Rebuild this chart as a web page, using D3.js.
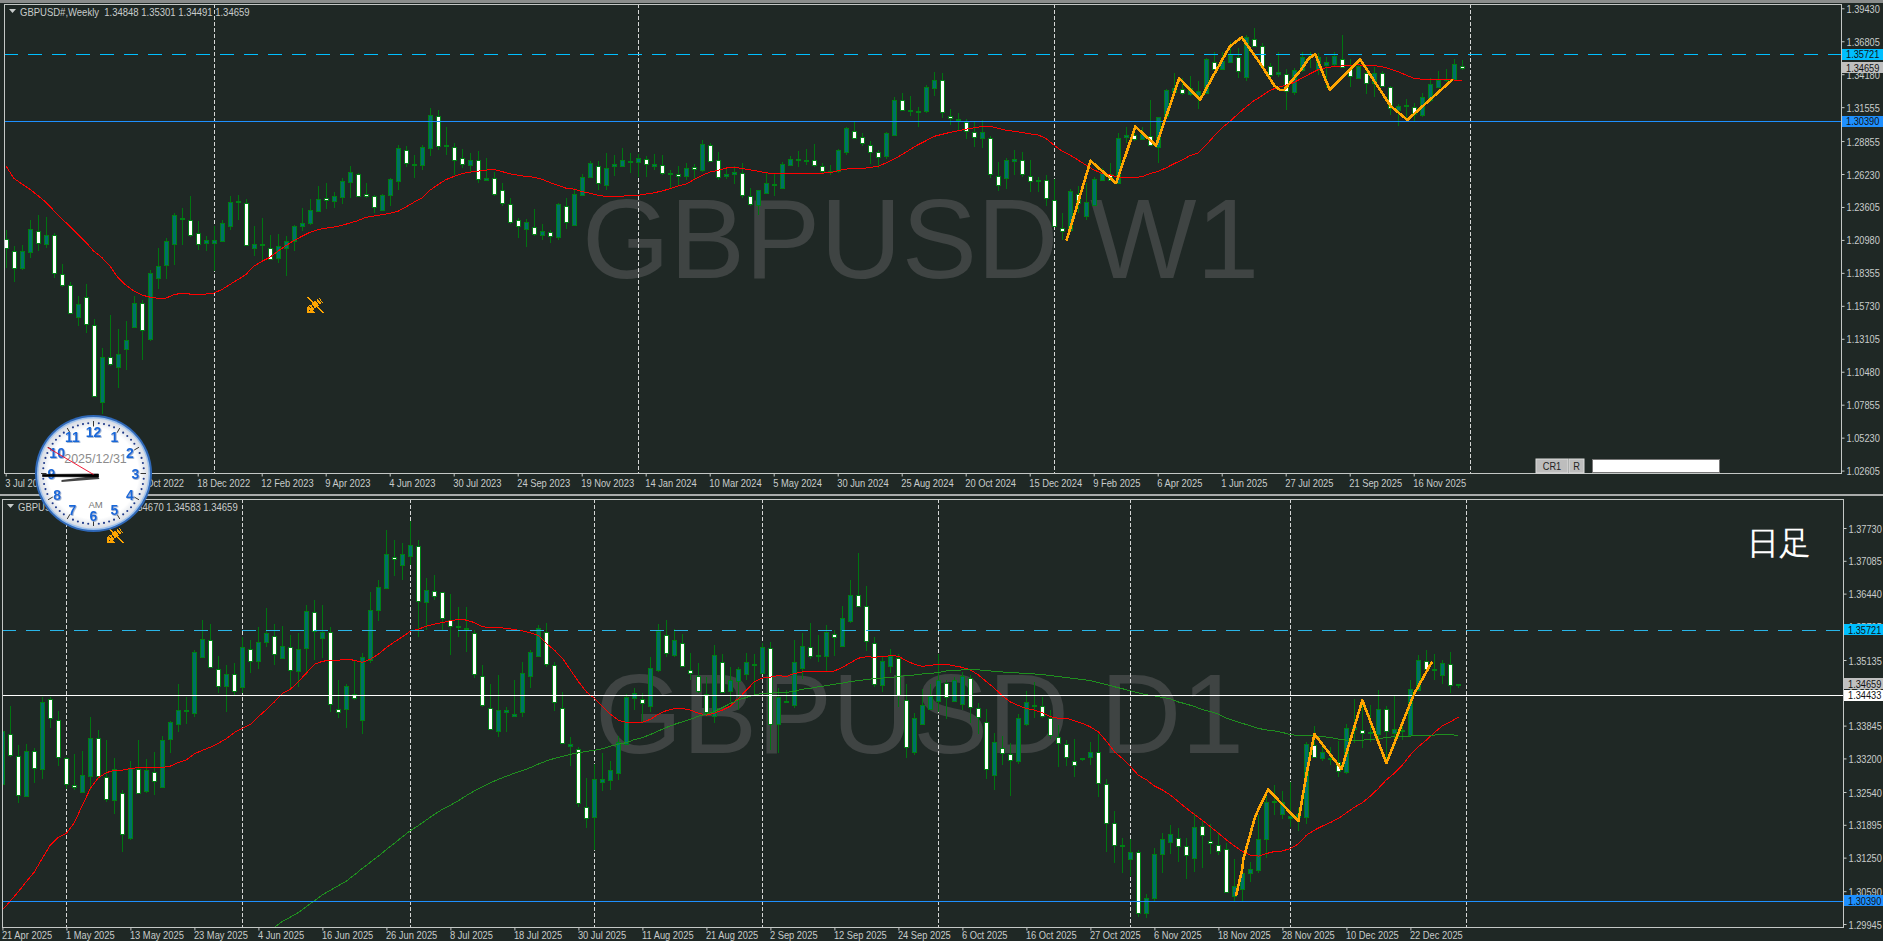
<!DOCTYPE html>
<html><head><meta charset="utf-8">
<script src="https://cdn.jsdelivr.net/npm/d3@7"></script>
<style>
html,body{margin:0;padding:0;background:#1f2825;overflow:hidden}
svg{display:block}
text{font-family:"Liberation Sans",Arial,sans-serif}
</style></head><body><div id="chart"></div>
<script>
const weeklyOpen=[1.2105,1.2007,1.1874,1.2001,1.2166,1.2068,1.2134,1.1824,1.1736,1.1484,1.1641,1.1418,1.0808,1.1163,1.1084,1.1235,1.1402,1.1596,1.1309,1.1795,1.1895,1.2062,1.2264,1.2253,1.2150,1.2070,1.2070,1.2086,1.2214,1.2399,1.2391,1.2033,1.2062,1.2033,1.1954,1.2033,1.2092,1.2206,1.2232,1.2328,1.2428,1.2405,1.2439,1.2556,1.2627,1.2460,1.2444,1.2338,1.2452,1.2564,1.2818,1.2691,1.2691,1.2826,1.3089,1.2842,1.2842,1.2747,1.2691,1.2731,1.2577,1.2590,1.2492,1.2381,1.2253,1.2190,1.2198,1.2134,1.2158,1.2126,1.2365,1.2214,1.2452,1.2595,1.2683,1.2532,1.2683,1.2683,1.2717,1.2717,
1.2739,1.2683,1.2691,1.2627,1.2622,1.2603,1.2675,1.2651,1.2858,1.2731,1.2603,1.2627,1.2630,1.2444,1.2378,1.2476,1.2540,1.2516,1.2691,1.2731,1.2725,1.2731,1.2686,1.2635,1.2649,1.2794,1.2964,1.2916,1.2858,1.2802,1.2763,1.2932,1.3211,1.3129,1.3113,1.3121,1.3306,1.3370,1.3083,1.3049,1.3041,1.2961,1.2916,1.2906,1.2609,1.2587,1.2725,1.2731,1.2609,1.2566,1.2572,1.2413,1.2195,1.2174,1.2466,1.2285,1.2375,1.2577,1.2622,1.2550,1.2916,1.2935,1.2900,1.2927,1.2837,1.3089,1.3280,1.3301,1.3259,1.3248,1.3266,1.3518,1.3465,1.3518,1.3558,1.3399,1.3701,1.3646,1.3484,1.3418,
1.3420,1.3280,1.3447,1.3553,1.3465,1.3487,1.3502,1.3542,1.3460,1.3391,1.3431,1.3346,1.3426,1.3320,1.3129,1.3160,1.3160,1.3094,1.3213,1.3319,1.3372,1.3378,1.34848];
const weeklyHigh=[1.2179,1.2047,1.2060,1.2253,1.2298,1.2280,1.2153,1.1909,1.1760,1.1654,1.1750,1.1471,1.1238,1.1503,1.1389,1.1450,1.1654,1.1622,1.1861,1.2033,1.2113,1.2312,1.2352,1.2450,1.2245,1.2131,1.2206,1.2259,1.2444,1.2452,1.2423,1.2206,1.2272,1.2139,1.2145,1.2126,1.2216,1.2352,1.2423,1.2529,1.2550,1.2479,1.2595,1.2688,1.2630,1.2550,1.2458,1.2466,1.2595,1.2855,1.2847,1.2776,1.2855,1.3152,1.3134,1.3001,1.2869,1.2824,1.2789,1.2808,1.2749,1.2643,1.2550,1.2428,1.2272,1.2264,1.2344,1.2227,1.2179,1.2391,1.2431,1.2511,1.2622,1.2728,1.2728,1.2794,1.2776,1.2829,1.2794,1.2784,
1.2763,1.2784,1.2776,1.2656,1.2688,1.2710,1.2702,1.2895,1.2869,1.2802,1.2670,1.2683,1.2710,1.2511,1.2497,1.2630,1.2630,1.2717,1.2768,1.2810,1.2824,1.2861,1.2710,1.2696,1.2824,1.3001,1.3041,1.2948,1.2882,1.2816,1.2954,1.3235,1.3266,1.3245,1.3160,1.3333,1.3434,1.3426,1.3142,1.3107,1.3060,1.3041,1.3054,1.2927,1.2717,1.2749,1.2816,1.2802,1.2736,1.2603,1.2617,1.2582,1.2312,1.2505,1.2524,1.2550,1.2603,1.2670,1.2710,1.2948,1.2996,1.2961,1.3001,1.3213,1.3081,1.3298,1.3426,1.3386,1.3404,1.3365,1.3545,1.3598,1.3598,1.3677,1.3624,1.3731,1.3789,1.3664,1.3505,1.3593,
1.3460,1.3465,1.3593,1.3593,1.3585,1.3553,1.3593,1.3731,1.3537,1.3532,1.3492,1.3473,1.3444,1.3325,1.3182,1.3221,1.3192,1.3266,1.3386,1.3444,1.3460,1.3537,1.35301];
const weeklyLow=[1.1874,1.1760,1.1861,1.1954,1.2007,1.2033,1.1795,1.1723,1.1511,1.1410,1.1357,1.0848,1.0712,1.1097,1.0919,1.1065,1.1397,1.1145,1.1291,1.1707,1.1787,1.1901,1.2060,1.2121,1.2019,1.2007,1.1848,1.2078,1.2174,1.2253,1.2047,1.1967,1.1927,1.1940,1.1914,1.1808,1.2007,1.2166,1.2219,1.2320,1.2346,1.2352,1.2386,1.2431,1.2444,1.2431,1.2312,1.2325,1.2370,1.2492,1.2678,1.2595,1.2656,1.2763,1.2816,1.2771,1.2617,1.2670,1.2630,1.2550,1.2564,1.2444,1.2365,1.2227,1.2113,1.2038,1.2131,1.2094,1.2073,1.2094,1.2187,1.2206,1.2444,1.2590,1.2497,1.2497,1.2611,1.2675,1.2630,1.2603,
1.2598,1.2651,1.2617,1.2511,1.2537,1.2577,1.2577,1.2643,1.2723,1.2577,1.2582,1.2542,1.2431,1.2365,1.2298,1.2463,1.2444,1.2505,1.2683,1.2678,1.2691,1.2675,1.2630,1.2617,1.2630,1.2776,1.2900,1.2850,1.2704,1.2670,1.2744,1.2927,1.3126,1.3086,1.3001,1.3107,1.3245,1.3073,1.3014,1.2975,1.2900,1.2837,1.2829,1.2595,1.2484,1.2503,1.2617,1.2603,1.2476,1.2476,1.2365,1.2198,1.2100,1.2166,1.2312,1.2253,1.2365,1.2564,1.2564,1.2545,1.2869,1.2882,1.2895,1.2850,1.2710,1.3081,1.3266,1.3253,1.3248,1.3142,1.3259,1.3452,1.3452,1.3505,1.3386,1.3365,1.3638,1.3479,1.3386,1.3399,
1.3134,1.3253,1.3439,1.3465,1.3412,1.3306,1.3479,1.3465,1.3314,1.3386,1.3261,1.3240,1.3314,1.3094,1.3009,1.3054,1.3049,1.3081,1.3200,1.3306,1.3359,1.3372,1.34491];
const weeklyClose=[1.2033,1.1874,1.2007,1.2184,1.2073,1.2139,1.1834,1.1739,1.1516,1.1590,1.1423,1.0853,1.1166,1.1105,1.1190,1.1304,1.1596,1.1383,1.1834,1.1887,1.2089,1.2296,1.2269,1.2137,1.2060,1.2097,1.2097,1.2232,1.2402,1.2407,1.2055,1.2065,1.2052,1.1948,1.2047,1.2086,1.2208,1.2232,1.2336,1.2423,1.2415,1.2447,1.2569,1.2638,1.2455,1.2447,1.2354,1.2455,1.2582,1.2829,1.2717,1.2702,1.2837,1.3091,1.2853,1.2853,1.2741,1.2696,1.2733,1.2582,1.2590,1.2463,1.2386,1.2240,1.2206,1.2243,1.2145,1.2166,1.2129,1.2386,1.2235,1.2463,1.2598,1.2710,1.2550,1.2670,1.2702,1.2733,1.2725,1.2747,
1.2702,1.2702,1.2630,1.2633,1.2609,1.2670,1.2656,1.2861,1.2733,1.2598,1.2622,1.2641,1.2458,1.2378,1.2495,1.2553,1.2529,1.2704,1.2741,1.2741,1.2733,1.2688,1.2646,1.2646,1.2813,1.2988,1.2911,1.2869,1.2802,1.2760,1.2948,1.3211,1.3131,1.3134,1.3123,1.3314,1.3370,1.3115,1.3068,1.3060,1.2969,1.2924,1.2961,1.2622,1.2537,1.2733,1.2741,1.2617,1.2569,1.2574,1.2426,1.2206,1.2174,1.2487,1.2391,1.2399,1.2585,1.2630,1.2577,1.2908,1.2932,1.2903,1.2940,1.2855,1.3075,1.3293,1.3309,1.3266,1.3306,1.3282,1.3537,1.3460,1.3526,1.3571,1.3447,1.3717,1.3643,1.3487,1.3412,1.3434,
1.3285,1.3452,1.3553,1.3563,1.3558,1.3513,1.3563,1.3481,1.3402,1.3487,1.3354,1.3426,1.3325,1.3155,1.3163,1.3171,1.3102,1.3235,1.3338,1.3372,1.3378,1.3497,1.34659];
const weeklyMA=[1.2691,1.2590,1.2545,1.2503,1.2452,1.2399,1.2333,1.2269,1.2206,1.2145,1.2081,1.2009,1.1959,1.1893,1.1800,1.1739,1.1691,1.1659,1.1643,1.1633,1.1633,1.1662,1.1673,1.1667,1.1665,1.1667,1.1675,1.1702,1.1742,1.1781,1.1821,1.1887,1.1927,1.1959,1.2007,1.2052,1.2092,1.2126,1.2158,1.2179,1.2192,1.2200,1.2214,1.2232,1.2251,1.2277,1.2288,1.2298,1.2309,1.2325,1.2359,1.2397,1.2431,1.2492,1.2537,1.2577,1.2603,1.2625,1.2638,1.2646,1.2654,1.2659,1.2643,1.2625,1.2614,1.2603,1.2598,1.2582,1.2556,1.2534,1.2511,1.2503,1.2484,1.2471,1.2455,1.2444,1.2444,1.2447,1.2450,1.2452,
1.2463,1.2473,1.2487,1.2505,1.2527,1.2542,1.2577,1.2611,1.2638,1.2651,1.2670,1.2678,1.2667,1.2656,1.2646,1.2633,1.2627,1.2627,1.2627,1.2627,1.2627,1.2627,1.2630,1.2633,1.2649,1.2662,1.2667,1.2667,1.2675,1.2683,1.2710,1.2741,1.2776,1.2816,1.2855,1.2887,1.2922,1.2938,1.2954,1.2967,1.2980,1.2991,1.3001,1.3004,1.2988,1.2972,1.2964,1.2954,1.2943,1.2935,1.2908,1.2855,1.2808,1.2776,1.2736,1.2696,1.2656,1.2630,1.2617,1.2598,1.2595,1.2595,1.2601,1.2625,1.2643,1.2670,1.2704,1.2733,1.2768,1.2789,1.2850,1.2922,1.2988,1.3041,1.3099,1.3155,1.3205,1.3245,1.3288,1.3314,
1.3330,1.3351,1.3386,1.3420,1.3452,1.3468,1.3479,1.3484,1.3489,1.3492,1.3489,1.3487,1.3479,1.3460,1.3439,1.3412,1.3386,1.3378,1.3372,1.3372,1.3372,1.3372,1.3367];
const weeklyZigBar=[132.6,135.6,138.8,141.2,143.8,146.7,149.3,151,153,154.5,156.8,158.6,159.3,159.8,161.9,162.9,163.7,165.5,169.3,173.1,175.2,180.9];
const weeklyZigPrice=[1.2092,1.2728,1.2550,1.3001,1.2850,1.3386,1.3213,1.3412,1.3638,1.3712,1.3505,1.3325,1.3293,1.3293,1.3452,1.3545,1.3577,1.3293,1.3537,1.3166,1.3054,1.3378];
const weeklyPriceTicks=[1.39430,1.36805,1.34180,1.31555,1.28855,1.26230,1.23605,1.20980,1.18355,1.15730,1.13105,1.10480,1.07855,1.05230,1.02605];
const weeklyDateLabels=["3 Jul 2022","28 Aug 2022","23 Oct 2022","18 Dec 2022","12 Feb 2023","9 Apr 2023","4 Jun 2023","30 Jul 2023","24 Sep 2023","19 Nov 2023","14 Jan 2024","10 Mar 2024","5 May 2024","30 Jun 2024","25 Aug 2024","20 Oct 2024","15 Dec 2024","9 Feb 2025","6 Apr 2025","1 Jun 2025","27 Jul 2025","21 Sep 2025","16 Nov 2025"];
const weeklySeparators=[26,79,131,183];

const dailyOpen=[1.3269,1.3368,1.3325,1.3246,1.3335,1.3298,1.3436,1.3396,1.3321,1.3268,1.3255,1.3287,1.3361,1.3284,1.3240,1.3253,1.3164,1.3300,1.3255,1.3294,1.3264,1.3357,1.3389,1.3415,1.3410,1.3519,1.3553,1.3496,1.3462,1.3485,1.3462,1.3536,1.3511,1.3548,1.3561,1.3519,1.3540,1.3492,1.3536,1.3608,1.3558,1.3569,1.3418,1.3416,1.3446,1.3395,1.3513,1.3611,1.3656,1.3716,1.3699,1.3718,1.3738,1.3629,1.3649,1.3648,1.3592,1.3579,1.3576,1.3567,1.3482,1.3419,1.3374,1.3412,1.3404,1.3410,1.3483,1.3522,1.3569,1.3503,1.3420,1.3345,1.3339,1.3225,1.3204,1.3274,1.3278,1.3292,1.3348,1.3438,
1.3437,1.3422,1.3494,1.3563,1.3522,1.3547,1.3494,1.3483,1.3446,1.3405,1.3510,1.3453,1.3472,1.3485,1.3503,1.3488,1.3538,1.3387,1.3433,1.3424,1.3498,1.3540,1.3523,1.3522,1.3564,1.3541,1.3591,1.3642,1.3620,1.3547,1.3463,1.3502,1.3518,1.3435,1.3333,1.3388,1.3418,1.3433,1.3469,1.3433,1.3428,1.3479,1.3419,1.3392,1.3288,1.3340,1.3329,1.3314,1.3387,1.3424,1.3423,1.3400,1.3363,1.3348,1.3315,1.3318,1.3322,1.3333,1.3270,1.3194,1.3147,1.3124,1.3137,1.3017,1.3047,1.3133,1.3155,1.3164,1.3148,1.3126,1.3188,1.3158,1.3150,1.3141,1.3050,1.3063,1.3094,1.3102,1.3163,1.3235,
1.3212,1.3204,1.3204,1.3204,1.3346,1.3321,1.3318,1.3312,1.3293,1.3379,1.3376,1.3371,1.3369,1.3418,1.3369,1.3376,1.3365,1.3454,1.3511,1.3493,1.3483,1.3506,1.34653];
const dailyHigh=[1.3422,1.3423,1.3346,1.3348,1.3340,1.3440,1.3440,1.3413,1.3323,1.3328,1.3334,1.3401,1.3376,1.3356,1.3320,1.3258,1.3315,1.3357,1.3318,1.3333,1.3364,1.3394,1.3467,1.3441,1.3533,1.3592,1.3585,1.3521,1.3503,1.3507,1.3559,1.3553,1.3579,1.3615,1.3584,1.3581,1.3562,1.3566,1.3621,1.3631,1.3621,1.3579,1.3474,1.3467,1.3513,1.3528,1.3648,1.3670,1.3769,1.3750,1.3743,1.3786,1.3750,1.3674,1.3680,1.3648,1.3644,1.3618,1.3618,1.3572,1.3503,1.3466,1.3484,1.3422,1.3474,1.3509,1.3533,1.3582,1.3587,1.3510,1.3451,1.3363,1.3343,1.3281,1.3310,1.3330,1.3315,1.3364,1.3446,1.3458,
1.3448,1.3520,1.3584,1.3593,1.3574,1.3564,1.3528,1.3507,1.3481,1.3543,1.3525,1.3500,1.3500,1.3528,1.3526,1.3546,1.3548,1.3458,1.3454,1.3553,1.3566,1.3587,1.3562,1.3582,1.3572,1.3619,1.3670,1.3723,1.3659,1.3558,1.3520,1.3536,1.3526,1.3466,1.3409,1.3456,1.3466,1.3525,1.3474,1.3481,1.3490,1.3484,1.3428,1.3417,1.3370,1.3365,1.3350,1.3407,1.3452,1.3470,1.3440,1.3415,1.3386,1.3357,1.3359,1.3320,1.3353,1.3368,1.3279,1.3217,1.3163,1.3161,1.3140,1.3053,1.3143,1.3173,1.3189,1.3184,1.3163,1.3212,1.3199,1.3191,1.3176,1.3153,1.3122,1.3127,1.3117,1.3209,1.3258,1.3268,
1.3255,1.3274,1.3222,1.3353,1.3384,1.3352,1.3343,1.3354,1.3388,1.3436,1.3431,1.3425,1.3454,1.3423,1.3443,1.3389,1.3475,1.3523,1.3533,1.3525,1.3513,1.3529,1.34670];
const dailyLow=[1.3268,1.3322,1.3232,1.3245,1.3272,1.3279,1.3379,1.3305,1.3259,1.3258,1.3254,1.3258,1.3279,1.3235,1.3210,1.3137,1.3160,1.3250,1.3253,1.3248,1.3262,1.3330,1.3372,1.3388,1.3402,1.3517,1.3497,1.3448,1.3412,1.3445,1.3448,1.3488,1.3496,1.3540,1.3503,1.3517,1.3456,1.3461,1.3484,1.3513,1.3517,1.3412,1.3399,1.3380,1.3435,1.3369,1.3507,1.3590,1.3654,1.3678,1.3671,1.3700,1.3559,1.3572,1.3631,1.3572,1.3523,1.3559,1.3530,1.3479,1.3422,1.3377,1.3363,1.3372,1.3401,1.3401,1.3459,1.3520,1.3500,1.3414,1.3350,1.3305,1.3225,1.3184,1.3139,1.3255,1.3257,1.3277,1.3346,1.3415,
1.3392,1.3412,1.3490,1.3519,1.3520,1.3500,1.3474,1.3448,1.3405,1.3389,1.3448,1.3431,1.3415,1.3474,1.3445,1.3487,1.3336,1.3331,1.3428,1.3420,1.3477,1.3516,1.3510,1.3489,1.3521,1.3540,1.3587,1.3617,1.3531,1.3461,1.3451,1.3487,1.3422,1.3321,1.3327,1.3386,1.3415,1.3412,1.3397,1.3431,1.3415,1.3390,1.3368,1.3279,1.3258,1.3307,1.3247,1.3310,1.3384,1.3399,1.3399,1.3359,1.3304,1.3305,1.3284,1.3314,1.3307,1.3245,1.3137,1.3114,1.3095,1.3088,1.3008,1.3007,1.3040,1.3094,1.3133,1.3117,1.3082,1.3097,1.3105,1.3133,1.3130,1.3055,1.3038,1.3038,1.3078,1.3094,1.3124,1.3209,
1.3200,1.3186,1.3178,1.3192,1.3320,1.3314,1.3307,1.3284,1.3289,1.3350,1.3340,1.3353,1.3356,1.3310,1.3343,1.3356,1.3363,1.3452,1.3494,1.3474,1.3466,1.3448,1.34583];
const dailyClose=[1.3373,1.3326,1.3248,1.3335,1.3302,1.3430,1.3399,1.3324,1.3270,1.3264,1.3288,1.3361,1.3287,1.3240,1.3300,1.3173,1.3301,1.3253,1.3297,1.3276,1.3357,1.3391,1.3416,1.3416,1.3530,1.3555,1.3500,1.3462,1.3485,1.3452,1.3540,1.3513,1.3548,1.3566,1.3525,1.3542,1.3494,1.3536,1.3609,1.3570,1.3569,1.3427,1.3413,1.3462,1.3439,1.3519,1.3611,1.3657,1.3722,1.3713,1.3721,1.3740,1.3629,1.3652,1.3639,1.3596,1.3580,1.3581,1.3577,1.3487,1.3425,1.3378,1.3416,1.3415,1.3407,1.3487,1.3530,1.3577,1.3507,1.3430,1.3351,1.3348,1.3233,1.3203,1.3279,1.3280,1.3297,1.3352,1.3441,1.3448,
1.3430,1.3497,1.3571,1.3528,1.3552,1.3502,1.3488,1.3454,1.3410,1.3524,1.3452,1.3474,1.3495,1.3509,1.3505,1.3540,1.3388,1.3440,1.3431,1.3509,1.3542,1.3522,1.3524,1.3569,1.3558,1.3597,1.3642,1.3621,1.3551,1.3467,1.3511,1.3522,1.3445,1.3342,1.3399,1.3426,1.3443,1.3475,1.3442,1.3475,1.3483,1.3422,1.3401,1.3300,1.3353,1.3331,1.3317,1.3399,1.3430,1.3426,1.3403,1.3366,1.3352,1.3323,1.3308,1.3320,1.3332,1.3272,1.3193,1.3150,1.3149,1.3137,1.3017,1.3046,1.3133,1.3162,1.3171,1.3148,1.3130,1.3186,1.3171,1.3154,1.3139,1.3056,1.3070,1.3095,1.3102,1.3162,1.3235,1.3236,
1.3235,1.3207,1.3210,1.3348,1.3323,1.3332,1.3320,1.3294,1.3379,1.3382,1.3370,1.3372,1.3418,1.3374,1.3377,1.3374,1.3456,1.3513,1.3495,1.3495,1.3507,1.3464,1.34659];
const dailyMA=[1.3022,1.3040,1.3058,1.3078,1.3097,1.3124,1.3150,1.3165,1.3173,1.3194,1.3228,1.3261,1.3282,1.3292,1.3297,1.3297,1.3300,1.3302,1.3302,1.3302,1.3302,1.3305,1.3312,1.3317,1.3329,1.3336,1.3342,1.3350,1.3359,1.3371,1.3379,1.3387,1.3402,1.3416,1.3431,1.3448,1.3456,1.3471,1.3488,1.3505,1.3511,1.3513,1.3513,1.3515,1.3513,1.3509,1.3515,1.3525,1.3538,1.3549,1.3559,1.3570,1.3574,1.3580,1.3584,1.3587,1.3591,1.3593,1.3592,1.3587,1.3579,1.3577,1.3577,1.3576,1.3573,1.3571,1.3567,1.3562,1.3546,1.3533,1.3517,1.3494,1.3471,1.3451,1.3438,1.3422,1.3407,1.3395,1.3391,1.3390,
1.3391,1.3397,1.3407,1.3414,1.3418,1.3418,1.3415,1.3409,1.3405,1.3409,1.3415,1.3423,1.3438,1.3454,1.3471,1.3478,1.3480,1.3483,1.3481,1.3487,1.3490,1.3490,1.3490,1.3490,1.3492,1.3499,1.3508,1.3517,1.3520,1.3519,1.3520,1.3522,1.3521,1.3512,1.3505,1.3501,1.3503,1.3505,1.3505,1.3502,1.3499,1.3494,1.3484,1.3471,1.3458,1.3443,1.3431,1.3424,1.3418,1.3415,1.3410,1.3402,1.3399,1.3399,1.3394,1.3389,1.3382,1.3372,1.3354,1.3333,1.3320,1.3304,1.3287,1.3278,1.3266,1.3258,1.3248,1.3235,1.3222,1.3210,1.3198,1.3186,1.3173,1.3160,1.3148,1.3137,1.3130,1.3128,1.3133,1.3137,
1.3138,1.3143,1.3152,1.3169,1.3179,1.3187,1.3194,1.3202,1.3213,1.3224,1.3233,1.3246,1.3261,1.3278,1.3291,1.3307,1.3327,1.3343,1.3356,1.3371,1.3384,1.3392,1.3401];
const dailyLongMAStart=34;
const dailyLongMA=[1.2988,1.3000,1.3008,1.3017,1.3029,1.3040,1.3052,1.3061,1.3070,1.3079,1.3091,1.3104,1.3116,1.3128,1.3141,1.3153,1.3166,1.3178,1.3188,1.3199,1.3210,1.3220,1.3228,1.3237,1.3247,1.3256,1.3264,1.3272,1.3279,1.3285,1.3291,1.3296,1.3302,1.3309,1.3315,1.3320,1.3324,1.3328,1.3331,1.3334,1.3336,1.3339,1.3344,1.3348,1.3351,1.3357,
1.3361,1.3367,1.3374,1.3381,1.3387,1.3392,1.3397,1.3403,1.3407,1.3412,1.3420,1.3428,1.3435,1.3440,1.3445,1.3448,1.3448,1.3450,1.3450,1.3452,1.3456,1.3458,1.3461,1.3463,1.3466,1.3468,1.3471,1.3473,1.3475,1.3477,1.3478,1.3479,1.3481,1.3483,1.3484,1.3486,1.3487,1.3489,1.3492,1.3493,1.3494,1.3494,1.3494,1.3493,1.3491,1.3490,1.3489,1.3488,1.3487,1.3486,1.3485,1.3483,1.3481,1.3479,1.3477,1.3475,1.3473,1.3469,1.3465,1.3461,1.3457,1.3453,1.3449,1.3445,1.3443,1.3440,1.3437,1.3431,1.3427,1.3422,1.3416,1.3412,1.3407,1.3399,1.3394,1.3389,1.3384,1.3379,1.3376,1.3374,
1.3371,1.3367,1.3365,1.3365,1.3364,1.3363,1.3361,1.3358,1.3356,1.3355,1.3356,1.3357,1.3359,1.3361,1.3363,1.3364,1.3364,1.3365,1.3366,1.3366,1.3367,1.3367,1.3365];
const dailyZigBar=[154.2,155,155.1,156.6,158.2,162,163,164,167.4,170,173,176.5,178.7];
const dailyZigPrice=[1.3050,1.3104,1.3121,1.3206,1.3259,1.3197,1.3288,1.3368,1.3299,1.3434,1.3311,1.3448,1.3510];
const dailyPriceTicks=[1.37730,1.37085,1.36440,1.35795,1.35135,1.34490,1.33845,1.33200,1.32540,1.31895,1.31250,1.30590,1.29945];
const dailyDateLabels=["21 Apr 2025","1 May 2025","13 May 2025","23 May 2025","4 Jun 2025","16 Jun 2025","26 Jun 2025","8 Jul 2025","18 Jul 2025","30 Jul 2025","11 Aug 2025","21 Aug 2025","2 Sep 2025","12 Sep 2025","24 Sep 2025","6 Oct 2025","16 Oct 2025","27 Oct 2025","6 Nov 2025","18 Nov 2025","28 Nov 2025","10 Dec 2025","22 Dec 2025"];
const dailySeparators=[8,30,51,74,95,117,141,161,183];

const levelResistance=1.35721, levelSupport=1.30390, levelDaily=1.34433, lastPrice=1.34659;

const W=1883,H=941,BG="#1f2825",FRAME="#c4c8c6",LABEL="#c8cccb",NARROW=0.84;
const svg=d3.select("#chart").append("svg").attr("width",W).attr("height",H).attr("viewBox",`0 0 ${W} ${H}`);
svg.append("rect").attr("width",W).attr("height",H).attr("fill",BG);
svg.append("rect").attr("x",0).attr("y",0).attr("width",W).attr("height",3).attr("fill","#8a8d8c");
svg.append("rect").attr("x",0).attr("y",494).attr("width",W).attr("height",2).attr("fill","#a9acab");

function panel(c){
  const g=svg.append("g");
  const x=d3.scaleLinear().domain([0,182]).range(c.xRange);
  const y=d3.scaleLinear().domain(c.yDomain).range(c.yRange);
  const clipId="clip"+c.id;
  g.append("clipPath").attr("id",clipId).append("rect").attr("x",c.left).attr("y",c.top).attr("width",c.right-c.left).attr("height",c.bottom-c.top);
  const plot=g.append("g").attr("clip-path",`url(#${clipId})`);
  plot.append("text").attr("transform",`translate(${c.markX},${c.markY}) scale(${c.markScale},1)`).attr("font-size",114).attr("fill","#3f4443").text(c.mark);
  plot.selectAll("line.sep").data(c.seps).join("line").attr("class","sep")
    .attr("x1",d=>Math.round(x(d))+.5).attr("x2",d=>Math.round(x(d))+.5).attr("y1",c.top).attr("y2",c.bottom)
    .attr("stroke","#d4d6d5").attr("stroke-dasharray","4,2");
  const n=c.open.length, idx=d3.range(n);
  const cx=i=>Math.round(x(i))+.5;
  plot.append("g").attr("shape-rendering","crispEdges").selectAll("line").data(idx).join("line")
    .attr("x1",cx).attr("x2",cx).attr("y1",i=>y(c.high[i])).attr("y2",i=>y(c.low[i])).attr("stroke","#007510");
  plot.append("g").attr("shape-rendering","crispEdges").selectAll("rect").data(idx).join("rect")
    .attr("x",i=>cx(i)-2).attr("width",4)
    .attr("y",i=>Math.round(y(Math.max(c.open[i],c.close[i])))+.5)
    .attr("height",i=>Math.max(1,Math.round(Math.abs(y(c.open[i])-y(c.close[i])))))
    .attr("fill",i=>c.close[i]>=c.open[i]?"#006f6a":"#ffffff")
    .attr("stroke","#008014");
  const line=d3.line().x(d=>x(d[0])).y(d=>y(d[1]));
  plot.append("path").attr("d",line(c.ma.map((v,i)=>[i,v]))).attr("fill","none").attr("stroke","#ff0000").attr("stroke-width",1).attr("shape-rendering","crispEdges");
  if(c.longMA) plot.append("path").attr("d",line(c.longMA.map((v,i)=>[i+c.longStart,v]))).attr("fill","none").attr("stroke","#1f8f1f").attr("stroke-width",1).attr("shape-rendering","crispEdges");
  c.levels.forEach(l=>{
    const ly=Math.floor(y(l.v))+.5;
    plot.append("line").attr("x1",c.left).attr("x2",c.right).attr("y1",ly).attr("y2",ly)
      .attr("stroke",l.color).attr("stroke-dasharray",l.dash||null).attr("stroke-width",1).attr("shape-rendering","crispEdges");
  });
  plot.append("path").attr("d",line(c.zigBar.map((b,i)=>[b,c.zigPrice[i]]))).attr("fill","none").attr("stroke","#ffa500").attr("stroke-width",2.6).attr("stroke-linejoin","round").attr("shape-rendering","crispEdges");
  g.append("rect").attr("x",c.left+.5).attr("y",c.top+.5).attr("width",c.right-c.left).attr("height",c.bottom-c.top).attr("fill","none").attr("stroke",FRAME).attr("shape-rendering","crispEdges");
  const yAx=g.append("g").attr("transform",`translate(${c.right+.5},0)`)
    .call(d3.axisRight(y).tickValues(c.yTicks).tickFormat(d3.format(".5f")).tickSize(3).tickPadding(0));
  yAx.select(".domain").remove();
  yAx.selectAll(".tick line").attr("stroke",FRAME);
  yAx.selectAll(".tick text").attr("x",null).attr("dy",null).attr("fill",LABEL).attr("font-size",11).attr("font-family",'"Liberation Sans",Arial,sans-serif')
    .attr("text-anchor","start").attr("transform",`translate(5,4) scale(${NARROW},1)`);
  const xAx=g.append("g").attr("transform",`translate(0,${c.bottom+.5})`)
    .call(d3.axisBottom(x).tickValues(c.dates.map((d,i)=>i*8)).tickFormat((d,i)=>c.dates[i]).tickSize(3));
  xAx.select(".domain").remove();
  xAx.selectAll(".tick line").attr("stroke",FRAME);
  xAx.selectAll(".tick text").attr("y",null).attr("dy",null).attr("fill",LABEL).attr("font-size",c.dateSize).attr("font-family",'"Liberation Sans",Arial,sans-serif')
    .attr("text-anchor","start").attr("transform",`translate(-1,${c.dateDy}) scale(${c.dateScale},1)`);
  c.tags.forEach(t=>{
    const yy=y(t.v);
    g.append("rect").attr("x",c.right+1).attr("y",Math.round(yy-6)).attr("width",W-c.right).attr("height",11).attr("fill",t.bg);
    g.append("text").attr("transform",`translate(${c.right+5},${Math.round(yy+3.5)}) scale(${NARROW},1)`).attr("font-size",11).attr("fill","#111").text(d3.format(".5f")(t.v));
  });
  g.append("path").attr("d",`M${c.left+5},${c.headY-3}h7l-3.5,4z`).attr("fill",LABEL);
  g.append("text").attr("transform",`translate(${c.left+16},${c.headY+4}) scale(0.865,1)`).attr("font-size",11).attr("fill",LABEL).attr("xml:space","preserve").text(c.header);
}

panel({id:"W",mark:"GBPUSD W1",markX:582,markY:278,markScale:0.99,xRange:[5.7,1461.7],
  yDomain:[1.3943,1.02605],yRange:[8.3,470.6],left:4,right:1841,top:4,bottom:473,
  open:weeklyOpen,high:weeklyHigh,low:weeklyLow,close:weeklyClose,ma:weeklyMA,seps:weeklySeparators,
  zigBar:weeklyZigBar,zigPrice:weeklyZigPrice,yTicks:weeklyPriceTicks,dates:weeklyDateLabels,dateDy:13,dateSize:11,dateScale:0.85,
  levels:[{v:levelResistance,color:"#00bfff",dash:"14,10"},{v:levelSupport,color:"#1e90ff"}],
  tags:[{v:levelResistance,bg:"#00bfff"},{v:lastPrice,bg:"#c0c0c0"},{v:levelSupport,bg:"#1e90ff"}],
  headY:12,header:"GBPUSD#,Weekly  1.34848 1.35301 1.34491 1.34659"});
panel({id:"D",mark:"GBPUSD D1",markX:595,markY:753,markScale:0.985,xRange:[2.4,1458.4],
  yDomain:[1.3773,1.29945],yRange:[528,924],left:2,right:1843,top:499,bottom:927,
  open:dailyOpen,high:dailyHigh,low:dailyLow,close:dailyClose,ma:dailyMA,longMA:dailyLongMA,longStart:dailyLongMAStart,seps:dailySeparators,
  zigBar:dailyZigBar,zigPrice:dailyZigPrice,yTicks:dailyPriceTicks,dates:dailyDateLabels,dateDy:11.5,dateSize:10.5,dateScale:0.89,
  levels:[{v:levelResistance,color:"#29b6e8",dash:"14,10"},{v:levelDaily,color:"#ffffff"},{v:levelSupport,color:"#1e90ff"}],
  tags:[{v:levelResistance,bg:"#00bfff"},{v:lastPrice,bg:"#c0c0c0"},{v:levelDaily,bg:"#ffffff"},{v:levelSupport,bg:"#1e90ff"}],
  headY:507,header:"GBPUSD#,Daily  1.34653 1.34670 1.34583 1.34659"});

svg.append("text").attr("x",1747).attr("y",554).attr("font-size",32).attr("fill","#fff").attr("font-family",'"Noto Sans CJK JP"').text("日足");

[[1536,32,"CR1"],[1569,15,"R"]].forEach(b=>{
  svg.append("rect").attr("x",b[0]).attr("y",459).attr("width",b[1]).attr("height",14).attr("fill","#bdbdbd").attr("stroke","#dcdcdc");
  svg.append("text").attr("transform",`translate(${b[0]+b[1]/2},470) scale(${NARROW},1)`).attr("text-anchor","middle").attr("font-size",11).attr("fill","#222").text(b[2]);
});
svg.append("rect").attr("x",1592.5).attr("y",459.5).attr("width",127).attr("height",13).attr("fill","#fff").attr("stroke","#777");

function pencil(px,py){
  const p=svg.append("g").attr("transform",`translate(${px},${py})`).attr("fill","none").attr("stroke","#ffa500").attr("shape-rendering","crispEdges");
  p.append("path").attr("d","M-8,-8L7,8").attr("stroke-width",1.5);
  p.append("path").attr("d","M-5,3L5,-5").attr("stroke-width",6).attr("stroke-dasharray","2,1");
  p.append("path").attr("d","M-8,2V7H-3L-8,2").attr("stroke-width",1.5);
}
pencil(316,305); pencil(116,535);

const clock=svg.append("g").attr("transform","translate(93.5,473.5)");
const defs=svg.append("defs");
const grad=defs.append("radialGradient").attr("id","face");
grad.append("stop").attr("offset","0.82").attr("stop-color","#ffffff");
grad.append("stop").attr("offset","1").attr("stop-color","#d6dbe4");
const flt=defs.append("filter").attr("id","numShadow").attr("x","-30%").attr("y","-30%").attr("width","160%").attr("height","160%");
flt.append("feDropShadow").attr("dx",.8).attr("dy",.8).attr("stdDeviation",.5).attr("flood-color","#8aa4c8");
clock.append("circle").attr("r",58.5).attr("fill","#2f68b8");
clock.append("circle").attr("r",56.5).attr("fill","#9cc0ec");
clock.append("circle").attr("r",55).attr("fill","url(#face)");
const ang=h=>(h/12)*2*Math.PI-Math.PI/2;
d3.range(60).forEach(m=>{
  const a=(m/60)*2*Math.PI-Math.PI/2;
  if(m%5===0) clock.append("line").attr("x1",47*Math.cos(a)).attr("y1",47*Math.sin(a)).attr("x2",52.5*Math.cos(a)).attr("y2",52.5*Math.sin(a)).attr("stroke","#333").attr("stroke-width",1);
  else clock.append("circle").attr("cx",50.5*Math.cos(a)).attr("cy",50.5*Math.sin(a)).attr("r",1.05).attr("fill","#1f3a8a");
});
clock.append("text").attr("x",2).attr("y",-10.5).attr("text-anchor","middle").attr("font-size",12.5).attr("fill","#8c8c8c").text("2025/12/31");
clock.append("text").attr("x",2).attr("y",34.5).attr("text-anchor","middle").attr("font-size",9.5).attr("fill","#777").attr("font-family",'"Liberation Serif",serif').text("AM");
d3.range(1,13).forEach(h=>{
  clock.append("text").attr("x",42*Math.cos(ang(h))).attr("y",42*Math.sin(ang(h))+5).attr("text-anchor","middle").attr("font-size",14).attr("font-weight","bold").attr("fill","#1768d8").attr("filter","url(#numShadow)").text(h);
});
clock.append("path").attr("d","M-32,6.5L4,2L6,5.5L-32,8.5Z").attr("fill","#444");
clock.append("path").attr("d","M-51,1L5,0.5L5,3.5L-51,3Z").attr("fill","#000").attr("stroke","#000").attr("stroke-width",.7);
clock.append("line").attr("x1",0).attr("y1",1).attr("x2",-46).attr("y2",-26).attr("stroke","#f00020").attr("stroke-width",.9);
</script></body></html>
